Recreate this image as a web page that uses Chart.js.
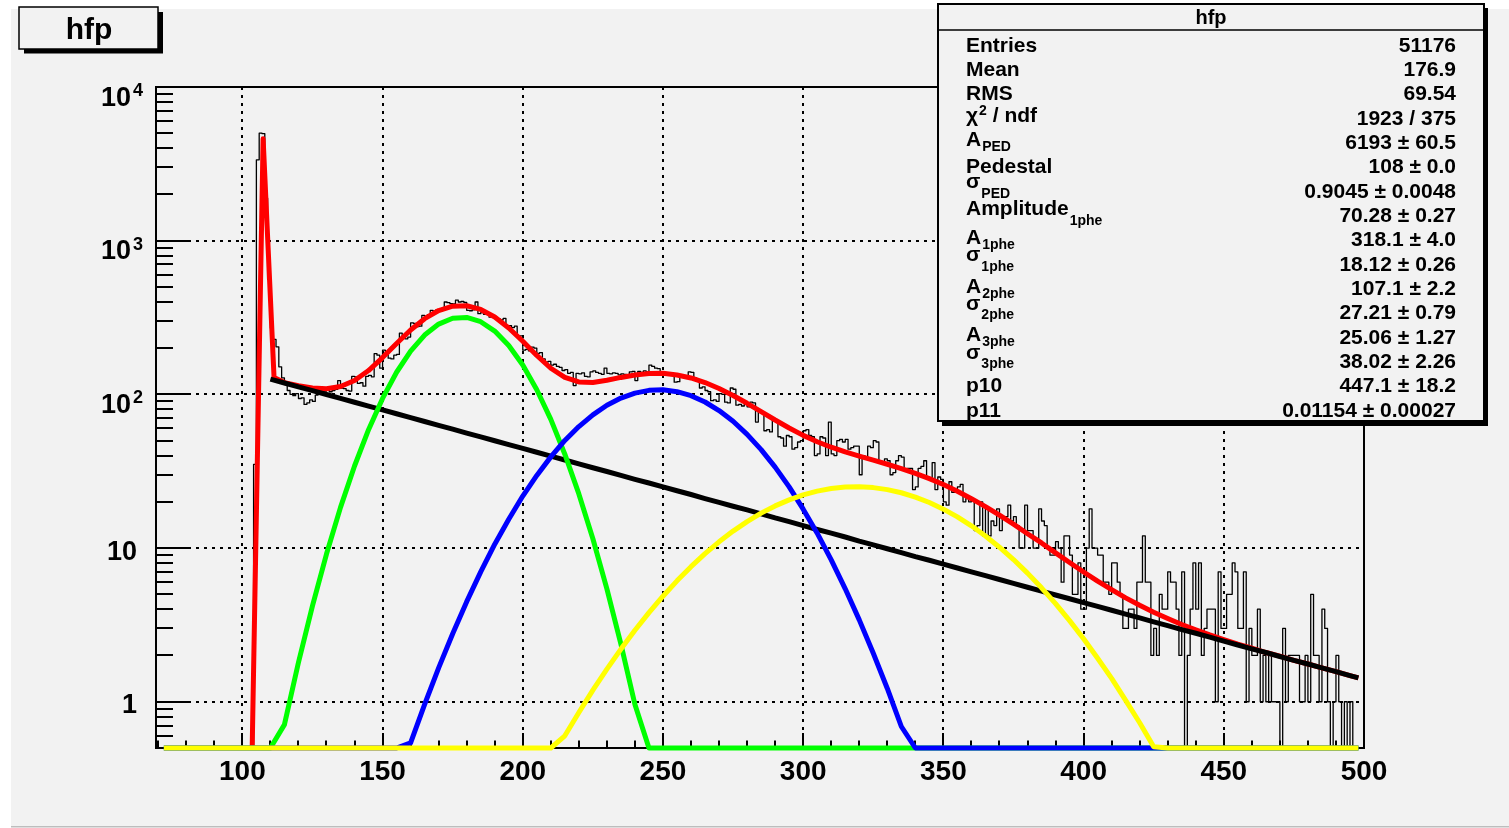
<!DOCTYPE html>
<html>
<head>
<meta charset="utf-8">
<script src="https://cdn.jsdelivr.net/npm/chart.js@4.4.1/dist/chart.umd.min.js"></script>
<style>
  html, body { margin: 0; padding: 0; background: #fff; }
  canvas { display: block; }
</style>
</head>
<body>
<canvas id="myChart" width="1509" height="828"></canvas>
<script>
// histogram "hfp", 1 unit wide bins, first bin starts at 100
const firstBin = 100;
const counts = [
  0, 0, 0, 0, 0, 35, 3360, 5010, 4980, 1890,
  560, 270, 228, 204, 151, 128, 118, 106, 100, 98,
  101, 94, 95, 86, 88, 92, 90, 99, 101, 100,
  105, 107, 104, 106, 108, 123, 110, 109, 106, 105,
  131, 130, 118, 119, 113, 131, 133, 130, 184, 180,
  148, 194, 190, 172, 170, 180, 182, 250, 233, 230,
  236, 292, 290, 276, 278, 327, 322, 330, 352, 348,
  355, 350, 353, 399, 395, 390, 388, 410, 399, 402,
  396, 352, 350, 355, 399, 335, 340, 332, 337, 318,
  320, 316, 310, 305, 312, 276, 280, 272, 278, 236,
  240, 194, 196, 192, 203, 200, 185, 187, 170, 162,
  164, 155, 157, 152, 150, 143, 145, 137, 139, 114,
  137, 136, 138, 131, 130, 140, 142, 139, 137, 135,
  148, 137, 136, 138, 137, 134, 136, 135, 133, 140,
  141, 123, 141, 139, 142, 140, 155, 152, 148, 147,
  133, 134, 137, 138, 136, 120, 121, 130, 131, 129,
  140, 139, 128, 123, 110, 112, 106, 104, 91, 92,
  90, 101, 100, 89, 88, 110, 108, 85, 86, 84,
  86, 83, 89, 88, 66, 77, 76, 58, 59, 57,
  68, 67, 53, 52, 46, 54, 53, 44, 45, 49,
  50, 58, 59, 54, 53, 40, 41, 53, 52, 40,
  66, 41, 40, 50, 51, 49, 51, 44, 45, 46,
  46, 30, 40, 39, 46, 45, 50, 49, 37, 36,
  38, 37, 30, 31, 37, 40, 39, 32, 33, 33,
  24, 25, 33, 34, 37, 29, 28, 36, 24, 29,
  28, 20, 19, 27, 23, 23, 25, 26, 20, 21,
  20, 21, 13, 14, 20, 12, 18, 12, 15, 14,
  18, 13, 16, 16, 19, 15, 16, 14, 10, 10,
  19, 13, 13, 10, 10, 18, 15, 14, 10, 9,
  9, 11, 10, 6, 12, 12, 9, 5, 5, 8,
  4, 4, 10, 18, 10, 10, 9, 9, 6, 6,
  5, 8, 8, 6, 5, 3, 3, 4, 4, 3,
  6, 6, 12, 6, 6, 2, 3, 2, 5, 4,
  4, 7, 6, 6, 4, 2, 7, 0, 2, 4,
  8, 4, 8, 2, 3, 4, 4, 4, 1, 7,
  3, 3, 5, 5, 8, 7, 3, 3, 7, 1,
  3, 2, 2, 4, 1, 2, 1, 2, 1, 1,
  1, 0, 3, 1, 2, 2, 2, 2, 1, 1,
  2, 1, 5, 2, 2, 1, 4, 3, 1, 0,
  1, 2, 1, 0, 1, 0, 1, 0, 0, 0
];

// fit curves, sampled along the x axis
const fitX = [
  72, 75, 80, 85, 90, 95, 100, 105, 110, 115,
  120, 125, 130, 135, 140, 145, 150, 155, 160, 165,
  170, 175, 180, 185, 190, 195, 200, 205, 210, 215,
  220, 225, 230, 235, 240, 245, 250, 255, 260, 265,
  270, 275, 280, 285, 290, 295, 300, 305, 310, 315,
  320, 325, 330, 335, 340, 345, 350, 355, 360, 365,
  370, 375, 380, 385, 390, 395, 400, 405, 410, 415,
  420, 425, 430, 435, 440, 445, 450, 455, 460, 465,
  470, 475, 480, 485, 490, 495, 498
];
// total fit (red)
const totalY = [
  null, null, null, null, null, null, null, null, null, 119.3,
  113.8, 109.9, 108.9, 112.6, 123.2, 142.9, 173.5, 214.4, 262.4, 310.8,
  351.2, 375.1, 377.2, 356.9, 318.5, 270.4, 221.5, 179.2, 147.9, 128.9,
  120.4, 119.6, 123.5, 128.9, 133.8, 136.9, 137.0, 133.8, 127.9, 119.4,
  109.3, 98.4, 87.5, 77.3, 68.1, 60.4, 54.1, 49.2, 45.3, 42.2,
  39.6, 37.3, 35.1, 32.9, 30.6, 28.3, 25.9, 23.4, 20.95, 18.6,
  16.4, 14.3, 12.4, 10.8, 9.3, 8.05, 6.99, 6.09, 5.36, 4.74,
  4.24, 3.82, 3.48, 3.18, 2.94, 2.72, 2.54, 2.37, 2.23, 2.09,
  1.98, 1.86, 1.76, 1.66, 1.57, 1.48, 1.43
];
// pedestal spike of the total fit
const pedX = [103.5, 107.4, 111.3];
const pedY = [0.03, 4600, 129];
// exponential background (black)
const bkgY = [
  null, null, null, null, null, null, null, null, 125.6, 118.6,
  112.0, 105.7, 99.8, 94.2, 88.9, 83.9, 79.2, 74.8, 70.6, 66.6,
  62.9, 59.4, 56.0, 52.9, 49.9, 47.1, 44.5, 42.0, 39.6, 37.4,
  35.3, 33.3, 31.5, 29.7, 28.0, 26.5, 25.0, 23.6, 22.3, 21.0,
  19.8, 18.7, 17.7, 16.7, 15.7, 14.85, 14.0, 13.2, 12.5, 11.8,
  11.1, 10.5, 9.9, 9.35, 8.8, 8.33, 7.86, 7.42, 7.0, 6.61,
  6.24, 5.89, 5.56, 5.25, 4.95, 4.68, 4.42, 4.17, 3.94, 3.72,
  3.51, 3.31, 3.13, 2.95, 2.79, 2.63, 2.48, 2.34, 2.21, 2.09,
  1.97, 1.86, 1.76, 1.66, 1.57, 1.48, 1.43
];
// 1 phe gaussian (green)
const phe1Y = [
  0, 0, 0, 0, 0, 0, 0, 0, 0.26, 0.71,
  1.8, 4.21, 9.14, 18.4, 34.2, 58.9, 94.1, 139.3, 191.3, 243.2,
  286.6, 312.9, 316.7, 297, 258, 207.8, 155.1, 107.2, 68.7, 40.8,
  22.5, 11.5, 5.42, 2.37, 0.96, 0.35, 0.12, 0, 0, 0,
  0, 0, 0, 0, 0, 0, 0, 0, 0, 0,
  0, 0, 0, 0, 0, 0, 0, 0, 0, 0,
  0, 0, 0, 0, 0, 0, 0, 0, 0, 0,
  0, 0, 0, 0, 0, 0, 0, 0, 0, 0,
  0, 0, 0, 0, 0, 0, 0
];
// 2 phe gaussian (blue)
const phe2Y = [
  0, 0, 0, 0, 0, 0, 0, 0, 0, 0,
  0, 0, 0, 0, 0, 0, 0.15, 0.29, 0.54, 0.96,
  1.66, 2.77, 4.48, 7.0, 10.6, 15.4, 21.8, 29.7, 39.2, 50.1,
  61.7, 73.6, 84.9, 94.6, 101.9, 106.2, 107.0, 104.1, 98.0, 89.2,
  78.5, 66.8, 54.9, 43.7, 33.6, 25.0, 17.9, 12.5, 8.37, 5.43,
  3.41, 2.07, 1.22, 0.69, 0.38, 0.2, 0, 0, 0, 0,
  0, 0, 0, 0, 0, 0, 0, 0, 0, 0,
  0, 0, 0, 0, 0, 0, 0, 0, 0, 0,
  0, 0, 0, 0, 0, 0, 0
];
// 3 phe gaussian (yellow)
const phe3Y = [
  0, 0, 0, 0, 0, 0, 0, 0, 0, 0,
  0, 0, 0, 0, 0, 0, 0, 0, 0, 0,
  0, 0, 0, 0, 0, 0, 0, 0.28, 0.42, 0.60,
  0.85, 1.19, 1.63, 2.20, 2.92, 3.80, 4.86, 6.12, 7.57, 9.19,
  10.98, 12.89, 14.87, 16.87, 18.8, 20.59, 22.16, 23.45, 24.39, 24.93,
  25.05, 24.73, 24.0, 22.9, 21.46, 19.78, 17.91, 15.94, 13.95, 11.99,
  10.13, 8.42, 6.87, 5.51, 4.35, 3.37, 2.57, 1.92, 1.42, 1.02,
  0.73, 0.51, 0.35, 0.23, 0, 0, 0, 0, 0, 0,
  0, 0, 0, 0, 0, 0, 0
];

const xTicks = [100, 150, 200, 250, 300, 350, 400, 450, 500];
const yTicks = [1, 10, 100, 1000, 10000];
const yTickExp = [null, null, 2, 3, 4];

// stats box
const statNames = ['Entries', 'Mean', 'RMS', 'χ', 'A', 'Pedestal', 'σ', 'Amplitude',
  'A', 'σ', 'A', 'σ', 'A', 'σ', 'p10', 'p11'];
const statSubs = ['', '', '', '', 'PED', '', 'PED', '1phe',
  '1phe', '1phe', '2phe', '2phe', '3phe', '3phe', '', ''];
const statValues = ['51176', '176.9', '69.54', '1923 / 375', '6193 ± 60.5', '108 ± 0.0',
  '0.9045 ± 0.0048', '70.28 ± 0.27', '318.1 ± 4.0', '18.12 ± 0.26', '107.1 ± 2.2',
  '27.21 ± 0.79', '25.06 ± 1.27', '38.02 ± 2.26', '447.1 ± 18.2', '0.01154 ± 0.00027'];

const X_MIN = 69.2, X_MAX = 500;
const Y_MIN = 0.5, Y_MAX = 10000;
const FONT = '"Liberation Sans", Arial, Helvetica, sans-serif';

const histPts = counts.map((c, i) => ({x: firstBin + i, y: Math.max(c, Y_MIN)}));
histPts.push({x: firstBin + counts.length, y: Y_MIN});

const curve = (ys) => fitX
  .map((x, i) => ys[i] === null ? null : {x: x, y: Math.max(ys[i], Y_MIN)})
  .filter(p => p);
const redPts = pedX.map((x, i) => ({x: x, y: Math.max(pedY[i], Y_MIN)})).concat(curve(totalY));

function seg(ctx, x1, y1, x2, y2) {
  ctx.beginPath(); ctx.moveTo(x1, y1); ctx.lineTo(x2, y2); ctx.stroke();
}

// ROOT look: pad, dotted grid, frame with inward ticks, labels, title and stats box
const rootFrame = {
  id: 'rootFrame',
  beforeDraw(chart) {
    const ctx = chart.ctx;
    ctx.save();
    ctx.fillStyle = '#ffffff';
    ctx.fillRect(0, 0, chart.width, chart.height);
    ctx.fillStyle = '#f2f2f2';
    ctx.fillRect(11, 9, chart.width - 11, 817);
    ctx.fillStyle = '#bdbdbd';
    ctx.fillRect(11, 826, chart.width - 11, 1.5);
    ctx.restore();
  },
  beforeDatasetsDraw(chart) {
    const {ctx, chartArea: a, scales: {x, y}} = chart;
    ctx.save();
    ctx.strokeStyle = '#000';
    ctx.lineWidth = 2;
    ctx.setLineDash([3, 5]);
    xTicks.forEach(v => {
      const px = Math.round(x.getPixelForValue(v));
      seg(ctx, px, a.top, px, a.bottom);
    });
    yTicks.forEach(v => {
      const py = Math.round(y.getPixelForValue(v));
      seg(ctx, a.left, py, a.right, py);
    });
    ctx.setLineDash([]);
    ctx.lineWidth = 2;
    ctx.strokeRect(a.left, a.top, a.right - a.left, a.bottom - a.top);
    // x ticks
    for (let v = 70; v <= X_MAX; v += 10) {
      const px = Math.round(x.getPixelForValue(v));
      const len = v % 50 === 0 ? 15 : 7.5;
      seg(ctx, px, a.bottom, px, a.bottom - len);
    }
    // y ticks
    for (let d = 0.1; d <= 1000; d *= 10) {
      for (let k = 1; k <= 9; k++) {
        const v = k * d;
        if (v < Y_MIN || v > Y_MAX) continue;
        const py = Math.round(y.getPixelForValue(v));
        seg(ctx, a.left, py, a.left + (k === 1 ? 33 : 17), py);
      }
    }
    ctx.restore();
  },
  afterDraw(chart) {
    const {ctx, chartArea: a, scales: {x, y}} = chart;
    ctx.save();
    ctx.fillStyle = '#000';
    // x labels
    ctx.font = 'bold 28px ' + FONT;
    ctx.textAlign = 'center';
    ctx.textBaseline = 'alphabetic';
    xTicks.forEach(v => ctx.fillText(String(v), x.getPixelForValue(v), a.bottom + 32));
    // y labels
    yTicks.forEach((v, i) => {
      const py = y.getPixelForValue(v);
      const e = yTickExp[i];
      if (e === null) {
        ctx.font = 'bold 27px ' + FONT;
        ctx.textAlign = 'right';
        ctx.fillText(String(v), 137, py + 11.5);
      } else {
        ctx.font = 'bold 18px ' + FONT;
        ctx.textAlign = 'right';
        ctx.fillText(String(e), 143, py + 9);
        const ew = ctx.measureText(String(e)).width;
        ctx.font = 'bold 27px ' + FONT;
        ctx.fillText('10', 143 - ew - 2, py + 18.5);
      }
    });

    // title box
    ctx.fillStyle = '#000';
    ctx.fillRect(24, 12, 139, 41.5);
    ctx.fillStyle = '#f2f2f2';
    ctx.fillRect(19, 7, 139, 42);
    ctx.strokeStyle = '#000';
    ctx.lineWidth = 1.5;
    ctx.strokeRect(19, 7, 139, 42);
    ctx.fillStyle = '#000';
    ctx.font = 'bold 30px ' + FONT;
    ctx.textAlign = 'center';
    ctx.fillText('hfp', 89, 39);

    // stats box
    ctx.fillStyle = '#000';
    ctx.fillRect(942, 8, 546, 418);
    ctx.fillStyle = '#f2f2f2';
    ctx.fillRect(938, 4, 546, 417);
    ctx.lineWidth = 2;
    ctx.strokeRect(938, 4, 546, 417);
    ctx.lineWidth = 1.5;
    seg(ctx, 938, 30, 1484, 30);
    ctx.fillStyle = '#000';
    ctx.font = 'bold 20px ' + FONT;
    ctx.textAlign = 'center';
    ctx.fillText('hfp', 1211, 23.5);

    const mainFont = 'bold 21px ' + FONT;
    const subFont = 'bold 14px ' + FONT;
    statNames.forEach((name, i) => {
      const cy = 44 + 24.35 * i;
      const sub = statSubs[i];
      ctx.textAlign = 'left';
      ctx.font = mainFont;
      if (i === 3) {
        ctx.fillText(name, 966, cy + 5);
        let w = ctx.measureText(name).width;
        ctx.font = subFont;
        ctx.fillText('2', 966 + w + 1, cy - 2);
        w += ctx.measureText('2').width + 1;
        ctx.font = mainFont;
        ctx.fillText(' / ndf', 966 + w, cy + 5);
      } else if (sub) {
        let mainDy = 5, subDy = 10;
        if (name === 'σ') { mainDy = -2; subDy = 7.5; }
        if (name === 'Amplitude') { mainDy = 0.5; subDy = 10.5; }
        ctx.fillText(name, 966, cy + mainDy);
        const w = ctx.measureText(name).width;
        ctx.font = subFont;
        ctx.fillText(sub, 966 + w + 1, cy + subDy);
      } else {
        ctx.fillText(name, 966, cy + 7.5);
      }
      ctx.font = mainFont;
      ctx.textAlign = 'right';
      ctx.fillText(statValues[i], 1456, cy + 7.5);
    });
    ctx.restore();
  }
};

new Chart(document.getElementById('myChart'), {
  type: 'line',
  data: {
    datasets: [
      {label: '3phe', data: curve(phe3Y), borderColor: '#ffff00', borderWidth: 5, order: 0, clip: 4},
      {label: '2phe', data: curve(phe2Y), borderColor: '#0000ff', borderWidth: 5, order: 1, clip: 4},
      {label: '1phe', data: curve(phe1Y), borderColor: '#00ff00', borderWidth: 5, order: 2, clip: 4},
      {label: 'background', data: curve(bkgY), borderColor: '#000000', borderWidth: 5, order: 3, clip: 4},
      {label: 'total', data: redPts, borderColor: '#ff0000', borderWidth: 5, order: 4, clip: 4},
      {label: 'hfp', data: histPts, borderColor: '#000000', borderWidth: 1.3, stepped: 'after', order: 5, clip: 2}
    ]
  },
  options: {
    responsive: false,
    animation: false,
    devicePixelRatio: 1,
    events: [],
    layout: {padding: {left: 156, top: 87, right: 145, bottom: 80}},
    elements: {
      point: {radius: 0},
      line: {tension: 0, fill: false, borderJoinStyle: 'round', borderCapStyle: 'butt'}
    },
    scales: {
      x: {type: 'linear', min: X_MIN, max: X_MAX, bounds: 'data', display: false},
      y: {type: 'logarithmic', min: Y_MIN, max: Y_MAX, bounds: 'data', display: false}
    },
    plugins: {
      legend: {display: false},
      tooltip: {enabled: false}
    }
  },
  plugins: [rootFrame]
});
</script>
</body>
</html>
